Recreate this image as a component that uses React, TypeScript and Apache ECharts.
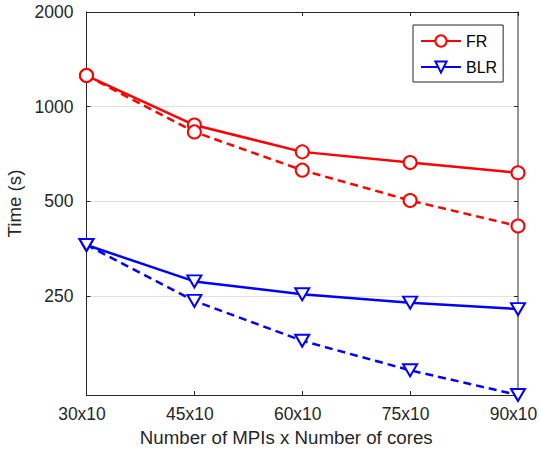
import React, { useEffect, useRef } from "react";
import * as echarts from "echarts";

const categories = ["30x10", "45x10", "60x10", "75x10", "90x10"];
const frSolid = [1256, 874, 718, 664, 616];
const frDashed = [1256, 831, 628, 503, 417];
const blrSolid = [363, 278, 253, 238, 227];
const blrDashed = [363, 241, 180, 145, 121];
const yTicks = [250, 500, 1000, 2000];
const yMin = 121;
const yMax = 2000;

const FONT = "'Liberation Sans', Arial, Helvetica, sans-serif";
const TXT = "#262626";

const lg = (v: number) => Math.log2(v);

export default function App() {
  const ref = useRef<HTMLDivElement>(null);
  useEffect(() => {
    if (!ref.current) return;
    const chart = echarts.init(ref.current, undefined, { renderer: "svg" });
    const tickVals = yTicks.map(lg);
    const mkSeries = (
      name: string,
      data: number[],
      color: string,
      symbol: string,
      rotate: number,
      size: number | number[],
      dashed: boolean
    ) => ({
      name,
      type: "line",
      data: data.map(lg),
      symbol,
      symbolSize: size,
      symbolRotate: rotate,
      clip: false,
      color,
      lineStyle: { color, width: 2.5, type: dashed ? [8, 5] : "solid" },
      itemStyle: { color, borderColor: color, borderWidth: 2.2 },
      emphasis: { disabled: true },
    });
    chart.setOption({
      animation: false,
      backgroundColor: "#fff",
      textStyle: { fontFamily: FONT, color: TXT },
      grid: { left: 86.5, right: 21, top: 12, bottom: 55, containLabel: false, outerBoundsMode: "none" },
      legend: {
        data: ["FR", "BLR"],
        orient: "vertical",
        left: 413,
        top: 25,
        padding: [8, 6, 7, 7],
        itemGap: 10,
        itemWidth: 40,
        itemHeight: 14,
        borderColor: TXT,
        borderWidth: 1,
        backgroundColor: "#fff",
        textStyle: { fontFamily: FONT, fontSize: 16, color: "#000" },
        selectedMode: false,
      },
      xAxis: [
        {
          type: "category",
          data: categories,
          boundaryGap: false,
          position: "bottom",
          axisLine: { lineStyle: { color: TXT, width: 1 } },
          axisTick: { inside: true, length: 4, lineStyle: { color: TXT } },
          axisLabel: {
            fontFamily: FONT,
            fontSize: 17.5,
            color: TXT,
            margin: 10,
            interval: 0,
            padding: [0, 9, 0, 0],
          },
          splitLine: { show: false },
          name: "Number of MPIs x Number of cores",
          nameLocation: "middle",
          nameGap: 32,
          nameTextStyle: { fontFamily: FONT, fontSize: 18.7, color: TXT, padding: [0, 32, 0, 0] },
        },
        {
          type: "category",
          data: categories,
          boundaryGap: false,
          position: "top",
          axisLine: { lineStyle: { color: TXT, width: 1 } },
          axisTick: { inside: true, length: 4, lineStyle: { color: TXT } },
          axisLabel: { show: false },
          splitLine: { show: false },
        },
      ],
      yAxis: [
        {
          type: "value",
          min: lg(yMin),
          max: lg(yMax),
          position: "left",
          axisLine: { show: true, lineStyle: { color: TXT, width: 1 } },
          axisTick: { show: true, inside: true, length: 4, customValues: tickVals, lineStyle: { color: TXT } },
          axisLabel: {
            customValues: tickVals,
            formatter: (v: number) => String(Math.round(Math.pow(2, v))),
            fontFamily: FONT,
            fontSize: 17.5,
            color: TXT,
            margin: 13,
          },
          splitLine: { show: true, lineStyle: { color: "#e1e1e1", width: 1 } },
          name: "Time (s)",
          nameLocation: "middle",
          nameGap: 60,
          nameTextStyle: { fontFamily: FONT, fontSize: 18.7, color: TXT },
        },
        {
          type: "value",
          min: lg(yMin),
          max: lg(yMax),
          position: "right",
          axisLine: { show: true, lineStyle: { color: "#707070", width: 1.5 } },
          axisTick: { show: true, inside: true, length: 4, customValues: tickVals, lineStyle: { color: TXT } },
          axisLabel: { show: false },
          splitLine: { show: false },
        },
      ],
      series: [
        mkSeries("FR", frSolid, "#ff0000", "emptyCircle", 0, 13, false),
        mkSeries("BLR", blrSolid, "#0000ff", "emptyTriangle", 180, [14, 12], false),
        mkSeries("FR dashed", frDashed, "#ff0000", "emptyCircle", 0, 13, true),
        mkSeries("BLR dashed", blrDashed, "#0000ff", "emptyTriangle", 180, [14, 12], true),
      ],
    });
    return () => chart.dispose();
  }, []);
  return <div ref={ref} style={{ width: 539, height: 450, position: "absolute", left: 0, top: 0 }} />;
}
